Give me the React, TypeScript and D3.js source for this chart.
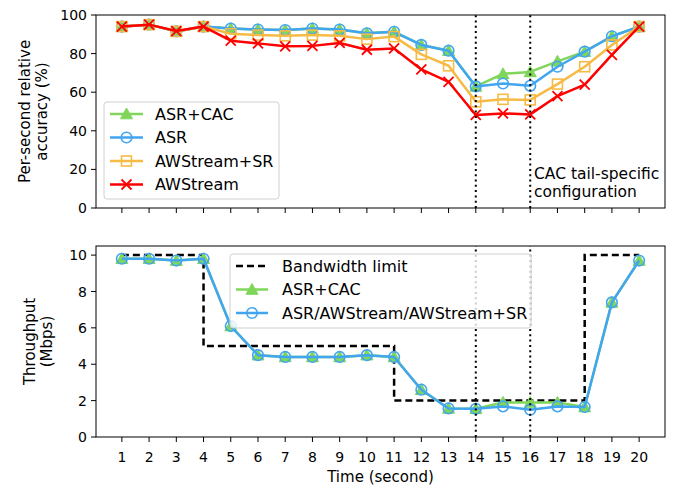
import React from "react";
import * as d3 from "d3";

const times = [1,2,3,4,5,6,7,8,9,10,11,12,13,14,15,16,17,18,19,20];
const accAsrCac = [94,95,91.5,94,93,92.5,92.2,93,92.5,90.5,91.3,84.5,81.5,63,69.5,70.5,76,81,89,94];
const accAsr = [94,95,91.5,94,93,92.5,92.2,93,92.5,90.5,91.3,84.5,81.5,63,64.5,63.3,73.2,81,89,94];
const accAwsSr = [94,95,91.5,94,90.3,89.6,89.2,89.6,89.2,87.5,88.8,79.6,73.7,55,56.3,56,64.2,73.2,84.5,94];
const accAws = [94,95,91.7,94,86.7,85.3,83.8,84,85.5,82,82.7,71.8,65.4,48.2,49,48.5,58,63.9,79.3,94];

const bandwidth = [10,10,10,10,5,5,5,5,5,5,5,2,2,2,2,2,2,2,10,10];
const tputAsrCac = [9.8,9.8,9.7,9.8,6.1,4.5,4.4,4.4,4.4,4.5,4.4,2.6,1.57,1.55,1.9,1.9,1.9,1.65,7.4,9.7];
const tputAsr = [9.8,9.8,9.7,9.8,6.1,4.5,4.4,4.4,4.4,4.5,4.4,2.6,1.57,1.55,1.68,1.5,1.68,1.65,7.4,9.7];

const topTicks = [0,20,40,60,80,100];
const botTicks = [0,2,4,6,8,10];
const markerLines = [14,16];

const GREEN = "#7fd65a";
const BLUE = "#42a5f0";
const YELLOW = "#f5bb45";
const RED = "#ff0000";
const FONT = "DejaVu Sans";

const x = d3.scaleLinear().domain([0.05, 20.95]).range([96, 665]);
const yTop = d3.scaleLinear().domain([0, 100]).range([208, 15]);
const yBot = d3.scaleLinear().domain([0, 10.5]).range([437, 246]);

function Marker({ type, cx, cy, color }: { type: string; cx: number; cy: number; color: string }) {
  if (type === "tri") {
    const s = 6;
    return <path d={`M${cx},${cy - s} L${cx + s},${cy + s * 0.8} L${cx - s},${cy + s * 0.8} Z`} fill={color} stroke={color} strokeWidth={1} />;
  }
  if (type === "circle") {
    return <circle cx={cx} cy={cy} r={5.3} fill="none" stroke={color} strokeWidth={1.6} />;
  }
  if (type === "square") {
    return <rect x={cx - 5} y={cy - 5} width={10} height={10} fill="none" stroke={color} strokeWidth={1.6} />;
  }
  const s = 5;
  return <path d={`M${cx - s},${cy - s} L${cx + s},${cy + s} M${cx - s},${cy + s} L${cx + s},${cy - s}`} stroke={color} strokeWidth={1.8} fill="none" />;
}

function Series({ values, y, color, marker }: { values: number[]; y: d3.ScaleLinear<number, number>; color: string; marker: string }) {
  const line = d3.line<number>().x((_, i) => x(times[i])).y((v) => y(v));
  return (
    <g>
      <path d={line(values) || ""} fill="none" stroke={color} strokeWidth={2.5} strokeLinejoin="round" />
      {values.map((v, i) => (
        <Marker key={i} type={marker} cx={x(times[i])} cy={y(v)} color={color} />
      ))}
    </g>
  );
}

function Frame({ y, ticks, showLabels }: { y: d3.ScaleLinear<number, number>; ticks: number[]; showLabels: boolean }) {
  const [y0, y1] = y.range();
  const [x0, x1] = x.range();
  return (
    <g>
      <rect x={x0} y={y1} width={x1 - x0} height={y0 - y1} fill="none" stroke="#000" strokeWidth={1} />
      {ticks.map((t) => (
        <g key={t}>
          <line x1={x0 - 5} x2={x0} y1={y(t)} y2={y(t)} stroke="#000" strokeWidth={1} />
          <text x={x0 - 9} y={y(t)} dy="0.36em" textAnchor="end" fontSize={14} fontFamily={FONT}>{t}</text>
        </g>
      ))}
      {times.map((t) => (
        <g key={t}>
          <line x1={x(t)} x2={x(t)} y1={y0} y2={y0 + 5} stroke="#000" strokeWidth={1} />
          {showLabels && (
            <text x={x(t)} y={y0 + 25} textAnchor="middle" fontSize={14} fontFamily={FONT}>{t}</text>
          )}
        </g>
      ))}
    </g>
  );
}

function VLines({ y }: { y: d3.ScaleLinear<number, number> }) {
  const [y0, y1] = y.range();
  return (
    <g>
      {markerLines.map((t) => (
        <line key={t} x1={x(t)} x2={x(t)} y1={y0} y2={y1} stroke="#000" strokeWidth={2} strokeDasharray="2,3.3" />
      ))}
    </g>
  );
}

const topLegend = [
  { label: "ASR+CAC", color: GREEN, marker: "tri" },
  { label: "ASR", color: BLUE, marker: "circle" },
  { label: "AWStream+SR", color: YELLOW, marker: "square" },
  { label: "AWStream", color: RED, marker: "x" },
];
const botLegend = [
  { label: "Bandwidth limit", color: "#000", marker: "dash" },
  { label: "ASR+CAC", color: GREEN, marker: "tri" },
  { label: "ASR/AWStream/AWStream+SR", color: BLUE, marker: "circle" },
];

function Legend({ items, bx, by, bw, bh, y0, step, hx0, hx1, tx }: any) {
  return (
    <g>
      <rect x={bx} y={by} width={bw} height={bh} rx={3} fill="#fff" fillOpacity={0.8} stroke="#d0d0d0" strokeWidth={1} />
      {items.map((it: any, i: number) => {
        const cy = y0 + i * step;
        return (
          <g key={it.label}>
            {it.marker === "dash" ? (
              <line x1={hx0} x2={hx1} y1={cy} y2={cy} stroke="#000" strokeWidth={2.5} strokeDasharray="7,4" />
            ) : (
              <>
                <line x1={hx0} x2={hx1} y1={cy} y2={cy} stroke={it.color} strokeWidth={2.5} />
                <Marker type={it.marker} cx={(hx0 + hx1) / 2} cy={cy} color={it.color} />
              </>
            )}
            <text x={tx} y={cy} dy="0.36em" fontSize={16} fontFamily={FONT}>{it.label}</text>
          </g>
        );
      })}
    </g>
  );
}

export default function App() {
  const bwLine = d3.line<number>().x((_, i) => x(times[i])).y((v) => yBot(v)).curve(d3.curveStepBefore);
  return (
    <svg width={674} height={487} style={{ position: "absolute", left: 0, top: 0, background: "#fff" }}>
      <rect x={0} y={0} width={674} height={487} fill="#fff" />
      {/* Top panel */}
      <Series values={accAsrCac} y={yTop} color={GREEN} marker="tri" />
      <Series values={accAsr} y={yTop} color={BLUE} marker="circle" />
      <Series values={accAwsSr} y={yTop} color={YELLOW} marker="square" />
      <Series values={accAws} y={yTop} color={RED} marker="x" />
      <VLines y={yTop} />
      <Frame y={yTop} ticks={topTicks} showLabels={false} />
      <text x={534} y={179} fontSize={15.5} fontFamily={FONT}>CAC tail-specific</text>
      <text x={534} y={197} fontSize={15.5} fontFamily={FONT}>configuration</text>
      <Legend items={topLegend} bx={104} by={102} bw={175} bh={97} y0={114} step={23.5} hx0={110} hx1={143} tx={155} />
      <g transform="translate(30,111.5) rotate(-90)">
        <text x={0} y={0} textAnchor="middle" fontSize={15} fontFamily={FONT}>Per-second relative</text>
        <text x={0} y={17} textAnchor="middle" fontSize={15} fontFamily={FONT}>accuracy (%)</text>
      </g>

      {/* Bottom panel */}
      <path d={bwLine(bandwidth) || ""} fill="none" stroke="#000" strokeWidth={2.5} strokeDasharray="7,4" />
      <Series values={tputAsrCac} y={yBot} color={GREEN} marker="tri" />
      <Series values={tputAsr} y={yBot} color={BLUE} marker="circle" />
      <VLines y={yBot} />
      <Frame y={yBot} ticks={botTicks} showLabels={true} />
      <Legend items={botLegend} bx={230} by={254} bw={301} bh={74} y0={266} step={23.5} hx0={236} hx1={268} tx={282} />
      <g transform="translate(35,341.5) rotate(-90)">
        <text x={0} y={0} textAnchor="middle" fontSize={15} fontFamily={FONT}>Throughput</text>
        <text x={0} y={17} textAnchor="middle" fontSize={15} fontFamily={FONT}>(Mbps)</text>
      </g>
      <text x={380.5} y={482} textAnchor="middle" fontSize={15} fontFamily={FONT}>Time (second)</text>
    </svg>
  );
}
